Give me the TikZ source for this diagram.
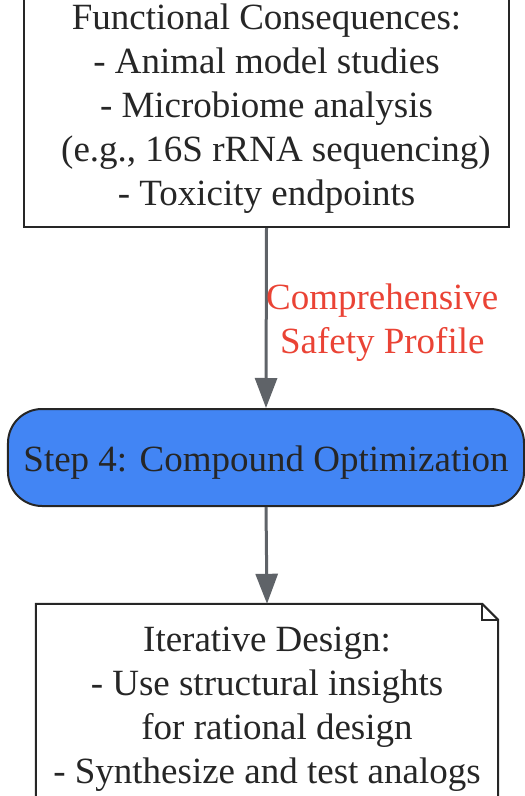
\documentclass[tikz,border=0pt]{standalone}
\usepackage{fontspec}
\setmainfont{Liberation Serif}
\usetikzlibrary{arrows.meta,calc}
\definecolor{txt}{HTML}{262626}
\definecolor{edge}{HTML}{5F6368}
\definecolor{lbl}{HTML}{EA4335}
\definecolor{stepfill}{HTML}{4285F4}
\tikzset{
  every node/.style={font=\fontsize{37bp}{44bp}\selectfont, text=txt, align=center, inner sep=0pt},
  plainbox/.style={draw=txt, line width=2bp, fill=white},
  stepbox/.style={draw=txt, line width=2bp, fill=stepfill, rounded corners=34bp},
  notebox/.style={draw=none},
  noteline/.style={draw=txt, line width=2bp, line join=miter},
  conn/.style={draw=edge, line width=3bp, -{Triangle[width=22bp,length=30bp]}},
  edgelabel/.style={text=lbl}
}
\begin{document}
\begin{tikzpicture}[x=1bp,y=-1bp]
\useasboundingbox (0,0) rectangle (525,796);
\clip (0,0) rectangle (525,796);
\node[plainbox, minimum width=485bp, minimum height=236bp] (func) at (266.5,109)
  {Functional Consequences:\\- Animal model studies\\- Microbiome analysis\\\hspace*{19bp}(e.g., 16S rRNA sequencing)\\- Toxicity endpoints};
\node[stepbox, minimum width=516bp, minimum height=97bp] (step) at (266,457.5)
  {\raisebox{-5bp}[\height][\depth]{Step 4: Compound Optimization}};
\node[notebox, minimum width=462bp, minimum height=210bp] (note) at (267,709) {};
\draw[noteline, fill=white] (note.south west) -- (note.north west) -- ($(note.north east)+(-16,0)$) -- ($(note.north east)+(0,16)$) -- (note.south east);
\draw[noteline] ($(note.north east)+(-16,0)$) -- ($(note.north east)+(-16,16)$) -- ($(note.north east)+(0,16)$);
\node[notebox] (notetext) at (note.center)
  {Iterative Design:\\- Use structural insights\\\hspace*{20bp}for rational design\\- Synthesize and test analogs};
\draw[conn] (func.south) -- node[edgelabel, xshift=116bp, yshift=-5bp] (lab) {Comprehensive\\Safety Profile} (step.north);
\draw[conn] (step.south) -- (note.north);
\end{tikzpicture}
\end{document}
